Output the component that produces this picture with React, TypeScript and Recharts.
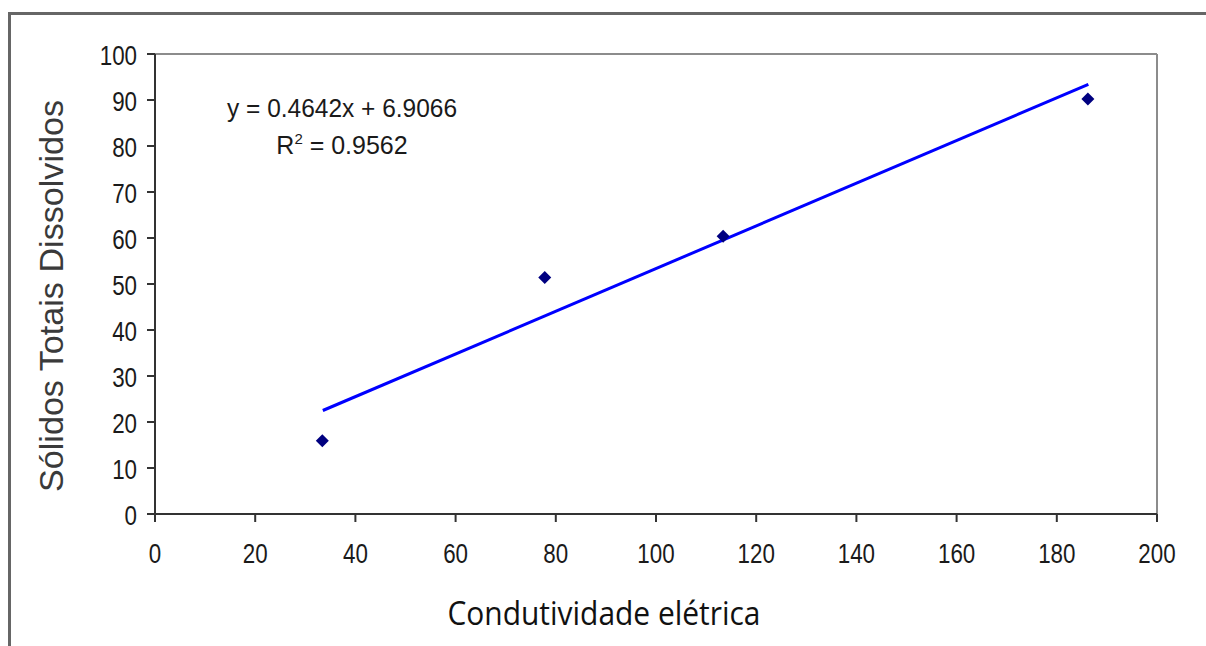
import React from "react";
import { ScatterChart, Scatter, XAxis, YAxis, ReferenceLine } from "recharts";

const condutividade = [33.4, 77.8, 113.4, 186.2];
const solidos = [15.9, 51.4, 60.4, 90.2];

// extremos da linha de tendência
const trendX = [33.5, 186.3];
const trendY = [22.5, 93.4];

const xTicks = [0, 20, 40, 60, 80, 100, 120, 140, 160, 180, 200];
const yTicks = [0, 10, 20, 30, 40, 50, 60, 70, 80, 90, 100];

const equation = "y = 0.4642x + 6.9066";
const r2Value = "0.9562";
const xTitle = "Condutividade elétrica";
const yTitle = "Sólidos Totais Dissolvidos";

const points = condutividade.map((x, i) => ({ x, y: solidos[i] }));
const trend = trendX.map((x, i) => ({ x, y: trendY[i] }));

const AXIS = "#333";
const ARIAL = "'Liberation Sans', Arial, sans-serif";

// rótulos dos ticks um pouco "estreitos", como no original
const XTick = (props: any) => {
  const { x, y, payload } = props;
  return (
    <text transform={`translate(${x},${y + 27}) scale(0.86,1.05)`} textAnchor="middle" fontSize={26} fill="#1a1a1a" fontFamily={ARIAL}>
      {payload.value}
    </text>
  );
};

const YTick = (props: any) => {
  const { x, y, payload } = props;
  return (
    <text transform={`translate(${x},${y + 11}) scale(0.86,1.05)`} textAnchor="end" fontSize={26} fill="#1a1a1a" fontFamily={ARIAL}>
      {payload.value}
    </text>
  );
};

const Diamond = (props: any) => {
  const { cx, cy } = props;
  const r = 6.5;
  return <path d={`M${cx},${cy - r}L${cx + r},${cy}L${cx},${cy + r}L${cx - r},${cy}Z`} fill="#000080" />;
};

const NoDot = () => <g />;

export default function App() {
  return (
    <div style={{ position: "fixed", left: 0, top: 0, width: 1206, height: 646, background: "#fff", overflow: "hidden" }}>
      <div
        style={{
          position: "absolute",
          left: 8,
          top: 12,
          width: 1198,
          height: 634,
          borderTop: "3px solid #666",
          borderLeft: "3px solid #666",
          boxSizing: "border-box",
        }}
      />
      <ScatterChart width={1206} height={646} margin={{ top: 54, right: 49, bottom: 0, left: 0 }} style={{ position: "absolute", left: 0, top: 0 }}>
        <XAxis
          type="number"
          dataKey="x"
          domain={[0, 200]}
          ticks={xTicks}
          height={132}
          tick={<XTick />}
          tickSize={8}
          tickMargin={14}
          axisLine={{ stroke: AXIS, strokeWidth: 2 }}
          tickLine={{ stroke: AXIS, strokeWidth: 2 }}
          label={() => (
            <text
              x={604}
              y={625}
              textAnchor="middle"
              fontSize={32}
              fill="#111"
              fontFamily="'Open Sans', 'Noto Sans', sans-serif"
              textLength={313}
              lengthAdjust="spacingAndGlyphs"
            >
              {xTitle}
            </text>
          )}
        />
        <YAxis
          type="number"
          dataKey="y"
          domain={[0, 100]}
          ticks={yTicks}
          width={155}
          tick={<YTick />}
          tickSize={8}
          tickMargin={10}
          axisLine={{ stroke: AXIS, strokeWidth: 2 }}
          tickLine={{ stroke: AXIS, strokeWidth: 2 }}
          label={() => (
            <text
              x={63}
              y={296}
              transform="rotate(-90 63 296)"
              textAnchor="middle"
              fontSize={34}
              fill="#3a3a3a"
              fontFamily={ARIAL}
              textLength={392}
              lengthAdjust="spacingAndGlyphs"
            >
              {yTitle}
            </text>
          )}
        />
        <ReferenceLine y={100} stroke="#8c8c8c" strokeWidth={2} />
        <ReferenceLine x={200} stroke="#8c8c8c" strokeWidth={2} />
        <Scatter
          data={trend}
          line={{ stroke: "#0000ff", strokeWidth: 3 }}
          shape={NoDot}
          isAnimationActive={false}
        />
        <Scatter data={points} shape={Diamond} isAnimationActive={false} />
      </ScatterChart>
      <svg width={1206} height={646} style={{ position: "absolute", left: 0, top: 0, pointerEvents: "none" }}>
        <text x={342} y={117} textAnchor="middle" fontSize={25} fill="#1a1a1a" fontFamily={ARIAL} textLength={230} lengthAdjust="spacingAndGlyphs">
          {equation}
        </text>
        <text x={342} y={154} textAnchor="middle" fontSize={25} fill="#1a1a1a" fontFamily={ARIAL}>
          R<tspan fontSize={15} dy={-10}>2</tspan>
          <tspan dy={10}>{" = " + r2Value}</tspan>
        </text>
      </svg>
    </div>
  );
}
